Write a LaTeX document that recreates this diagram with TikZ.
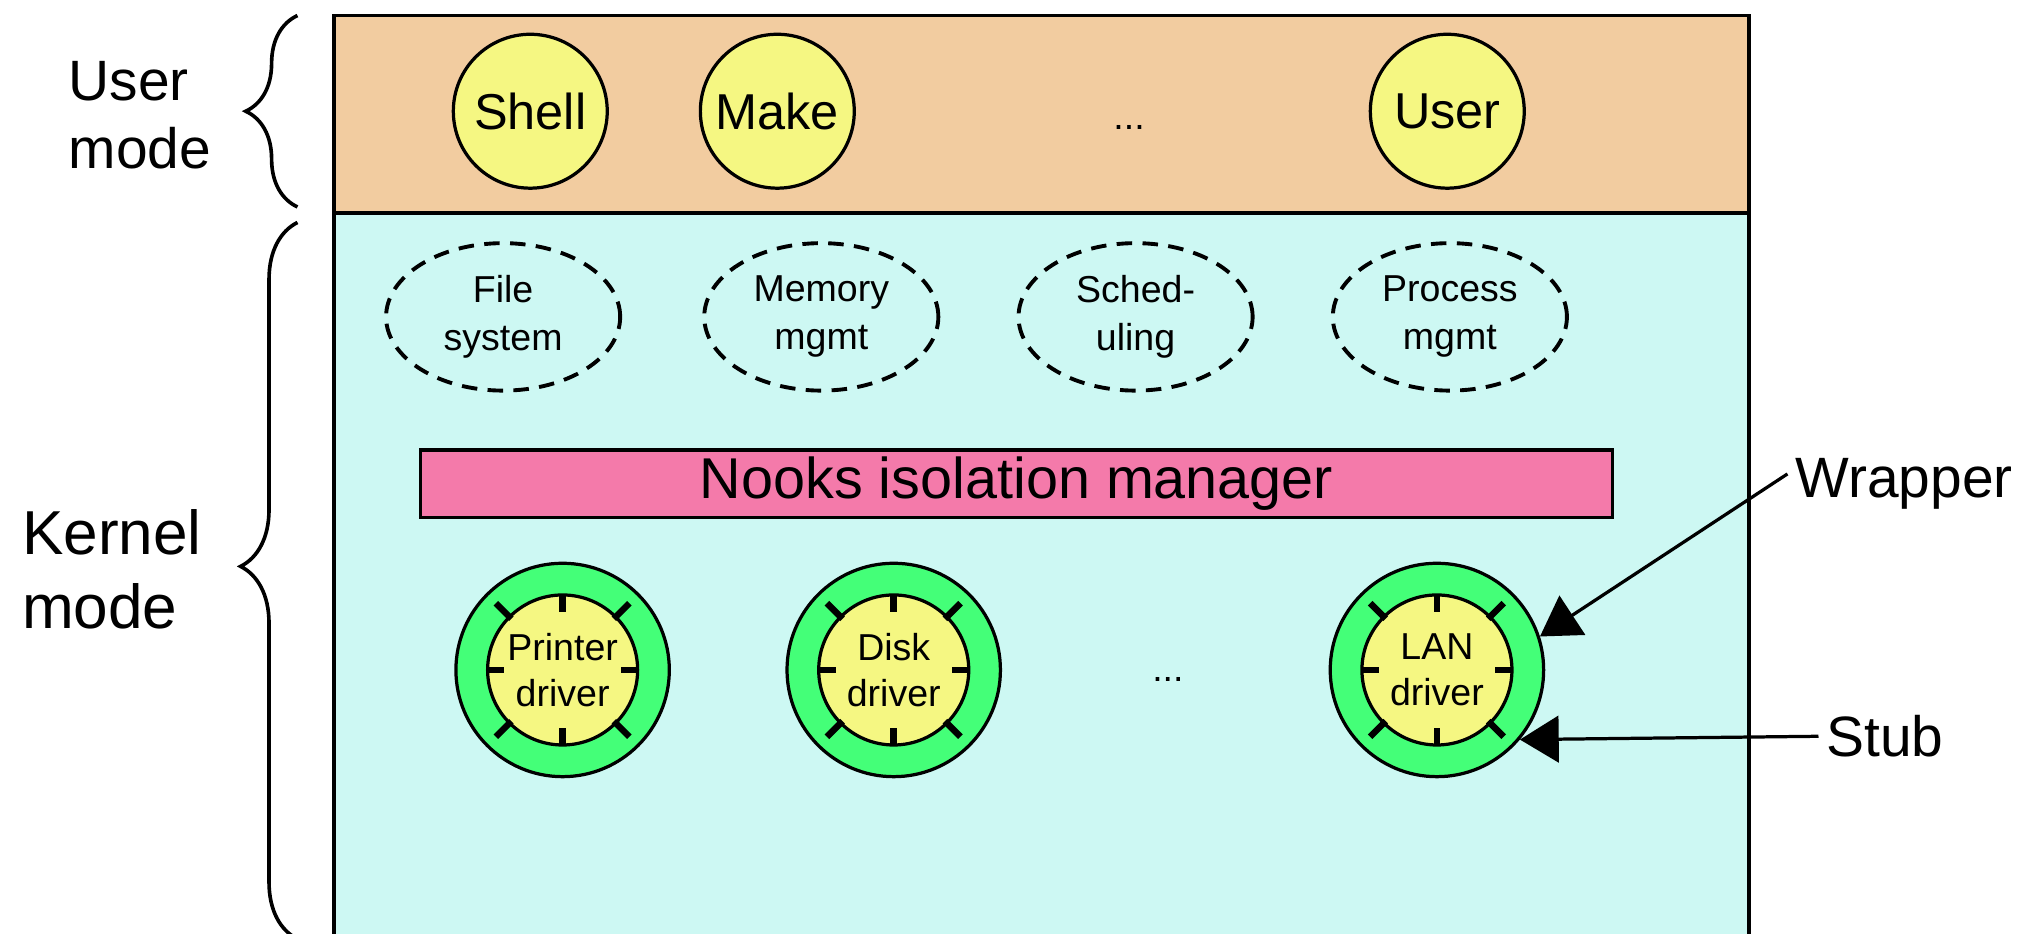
\documentclass[tikz,border=0pt]{standalone}
\usepackage{fontspec}
\setmainfont{Liberation Sans}
\usetikzlibrary{shapes.geometric,arrows.meta,decorations.pathreplacing}

\definecolor{userzonefill}{RGB}{242,204,160}
\definecolor{kernelzonefill}{RGB}{205,248,243}
\definecolor{procyellow}{RGB}{245,247,130}
\definecolor{wrapgreen}{RGB}{68,255,120}
\definecolor{nookspink}{RGB}{244,122,170}

\tikzset{
  zone/.style={draw, line width=3pt, minimum width=1094pt, inner sep=0pt},
  proc/.style={circle, draw, line width=2.5pt, fill=procyellow, minimum size=119pt,
    inner sep=0pt, font=\fontsize{39}{44}\selectfont},
  svc/.style={ellipse, draw, dash pattern=on 12pt off 8pt, line width=3pt,
    minimum width=181pt, minimum height=114pt, inner sep=0pt, align=center,
    font=\fontsize{29}{37}\selectfont},
  wrapring/.style={circle, draw, line width=2.5pt, fill=wrapgreen, minimum size=165pt, inner sep=0pt},
  drvcore/.style={circle, draw, line width=2.5pt, fill=procyellow, minimum size=116pt,
    inner sep=0pt, align=center, font=\fontsize{29}{36}\selectfont},
  stubtick/.style={line width=5pt},
  dots/.style={inner sep=0pt, font=\fontsize{29}{34}\selectfont},
  modelabel/.style={inner sep=0pt, align=left, anchor=west},
  sidelabel/.style={inner sep=0pt, inner xsep=6pt, font=\fontsize{44}{52}\selectfont},
  callout/.style={line width=2.5pt, -{Triangle[length=30pt,width=36pt]}},
  modebrace/.style={decorate, line width=2.8pt},
}

\begin{document}
\begin{tikzpicture}[x=1pt,y=-1pt]
\useasboundingbox (0,0) rectangle (1568,722);

% user and kernel regions
\node[zone, fill=userzonefill, minimum height=153pt] (userzone) at (805,88.5) {};
\node[zone, fill=kernelzonefill, minimum height=575pt] (kernelzone) at (805,452.5) {};

% side labels and braces
\node[modelabel, font=\fontsize{44}{52}\selectfont] (userlbl) at (53,89) {User\\mode};
\node[modelabel, font=\fontsize{48}{57}\selectfont] (kernellbl) at (17,440) {Kernel\\mode};
\draw[modebrace, decoration={brace, amplitude=40pt}] (230,160) -- (230,12);
\draw[modebrace, decoration={brace, amplitude=44pt, aspect=0.52}] (230,726) -- (230,172);

% user processes
\node[proc] (shell) at (410,86) {Shell};
\node[proc] (make) at (601,86) {Make};
\node[dots, anchor=base] (userdots) at (873,100) {...};
\node[proc] (userproc) at (1119,86) {User};

% kernel services
\node[svc] (fs) at (389,245) {File\\system};
\node[svc] (mm) at (635,245) {Memory\\mgmt};
\node[svc] (sched) at (878,245) {Sched-\\uling};
\node[svc] (pm) at (1121,245) {Process\\mgmt};

% isolation manager
\node[draw, line width=2.5pt, fill=nookspink, minimum width=922pt, minimum height=52pt,
  inner sep=0pt, font=\fontsize{44.5}{50}\selectfont] (nooks) at (786,374) {Nooks isolation manager};

% drivers: green wrapper ring, yellow driver core, stub ticks
\foreach \nm/\cx/\txt in {prn/435/Printer\\driver, dsk/691/Disk\\driver, lan/1111/LAN\\driver}{
  \node[wrapring] (\nm ring) at (\cx,518) {};
  \node[drvcore] (\nm core) at (\cx,518) {\txt};
  \foreach \a in {0,90,180,270}
    \draw[stubtick, shift={(\nm core.center)}] (\a:58) -- (\a:45);
  \foreach \a in {45,135,225,315}
    \draw[stubtick, shift={(\nm core.center)}] (\a:56) -- (\a:73);
}
\node[dots, anchor=base] (drvdots) at (903,527) {...};

% callouts
\node[sidelabel, anchor=base west] (wrapper) at (1382,385) {Wrapper};
\node[sidelabel, anchor=base west] (stub) at (1406,585) {Stub};
\draw[callout] ([yshift=8pt]wrapper.west) -- (lanring.18);
\draw[callout] (stub.west) -- (lanring.-40);
\end{tikzpicture}
\end{document}
